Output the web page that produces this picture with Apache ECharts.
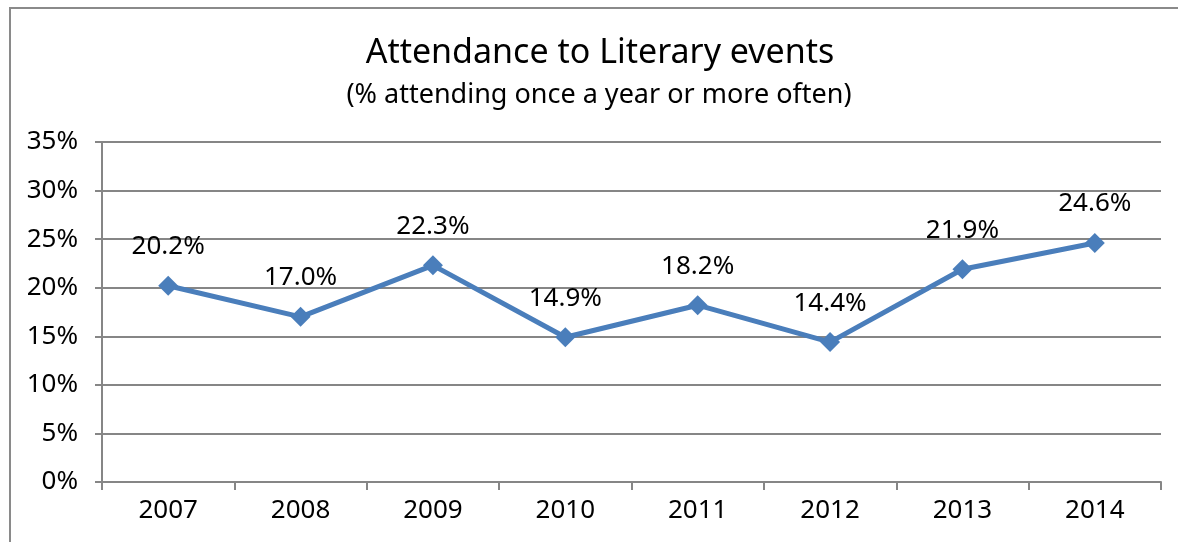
<!DOCTYPE html>
<html>
<head>
<meta charset="utf-8">
<script src="https://cdn.jsdelivr.net/npm/echarts@6/dist/echarts.min.js"></script>
<style>
html,body{margin:0;padding:0;background:#fff;}
#chart{width:1178px;height:542px;}
</style>
</head>
<body>
<div id="chart"></div>
<script>
const categories = ['2007','2008','2009','2010','2011','2012','2013','2014'];
const values = [20.2, 17.0, 22.3, 14.9, 18.2, 14.4, 21.9, 24.6];
const titleText = 'Attendance to Literary events';
const subtitleText = '(% attending once a year or more often)';

const chart = echarts.init(document.getElementById('chart'));
const font = 'Noto Sans';
chart.setOption({
  backgroundColor: '#fff',
  animation: false,
  graphic: [{
    type: 'rect',
    shape: {x: 10, y: 8, width: 1200, height: 600},
    style: {fill: 'none', stroke: '#8a8a8a', lineWidth: 2},
    silent: true
  }],
  title: [{
    text: titleText,
    left: 600,
    textAlign: 'center',
    top: 31,
    padding: 0,
    textStyle: {fontFamily: font, fontSize: 34, fontWeight: 'normal', color: '#000', lineHeight: 44}
  }, {
    text: subtitleText,
    left: 599,
    textAlign: 'center',
    top: 78,
    padding: 0,
    textStyle: {fontFamily: font, fontSize: 27, fontWeight: 'normal', color: '#000', lineHeight: 34}
  }],
  grid: {left: 102, right: 17, top: 142, bottom: 60, containLabel: false},
  xAxis: {
    type: 'category',
    data: categories,
    boundaryGap: true,
    axisLine: {lineStyle: {color: '#868686', width: 2}},
    axisTick: {show: true, length: 8, lineStyle: {color: '#868686', width: 2}},
    axisLabel: {fontFamily: font, fontSize: 26, color: '#000', margin: 16}
  },
  yAxis: {
    type: 'value',
    min: 0, max: 35, interval: 5,
    axisLine: {show: true, lineStyle: {color: '#868686', width: 2}},
    axisTick: {show: true, length: 7, lineStyle: {color: '#868686', width: 2}},
    splitLine: {lineStyle: {color: '#868686', width: 2}},
    axisLabel: {fontFamily: font, fontSize: 26, color: '#000', margin: 24, formatter: v => v + '%'}
  },
  series: [{
    type: 'line',
    data: values,
    symbol: 'diamond',
    symbolSize: 20,
    itemStyle: {color: '#4a7ebb'},
    lineStyle: {color: '#4a7ebb', width: 5},
    label: {
      show: true,
      position: 'top',
      distance: 16,
      fontFamily: font,
      fontSize: 26,
      color: '#000',
      formatter: p => p.value.toFixed(1) + '%'
    }
  }]
});
</script>
</body>
</html>
